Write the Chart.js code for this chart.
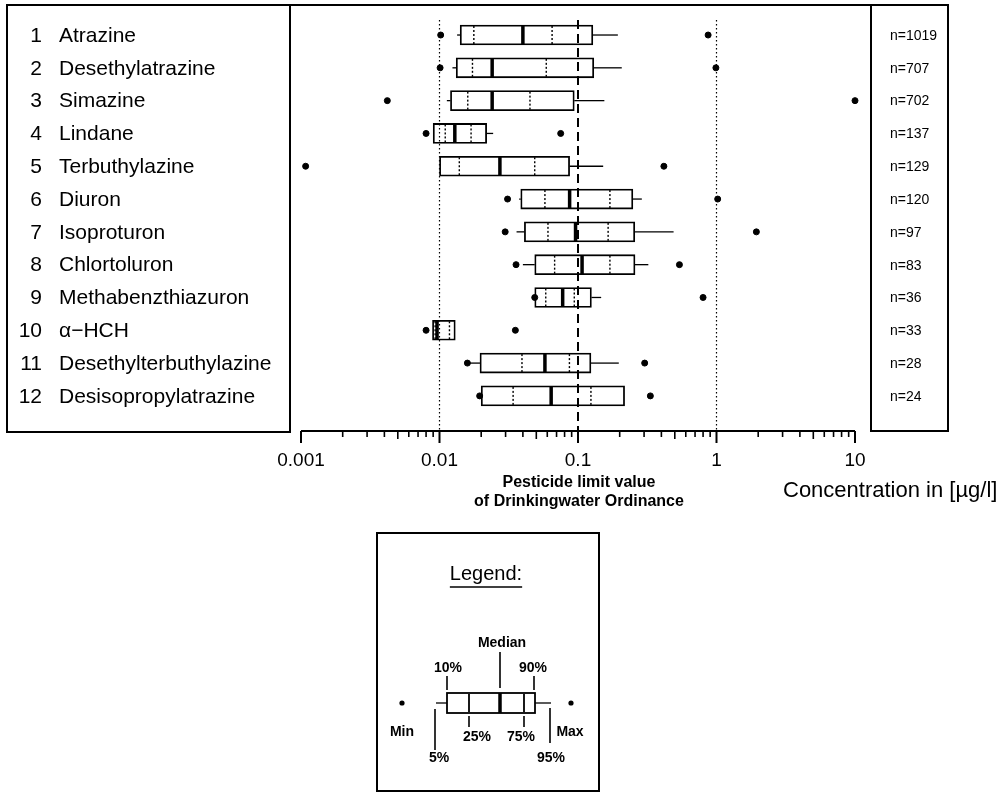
<!DOCTYPE html>
<html>
<head>
<meta charset="utf-8">
<script src="https://cdn.jsdelivr.net/npm/chart.js@4.4.0/dist/chart.umd.min.js"></script>
<style>
  html, body { margin: 0; padding: 0; background: #fff; }
  #wrap { width: 1006px; height: 797px; }
</style>
</head>
<body>
<div id="wrap"><canvas id="chart" width="1006" height="797"></canvas></div>
<script>
// Pesticides, Konzentrationen in µg/l
const substances = ['Atrazine', 'Desethylatrazine', 'Simazine', 'Lindane', 'Terbuthylazine', 'Diuron',
    'Isoproturon', 'Chlortoluron', 'Methabenzthiazuron', 'α\u2212HCH', 'Desethylterbuthylazine', 'Desisopropylatrazine'];
const nCounts = [1019, 707, 702, 137, 129, 120, 97, 83, 36, 33, 28, 24];

const minVals = [0.0102, 0.0101, 0.0042, 0.0080, 0.00108, 0.031, 0.0298, 0.0357, 0.0487, 0.0080, 0.0159, 0.0195];
const p5 =      [0.0134, 0.0124, 0.0113, 0.0090, 0.0100, 0.0376, 0.036, 0.040, 0.0487, 0.0089, 0.0159, 0.0200];
const p10 =     [0.0141, 0.0132, 0.0120, 0.0090, 0.0100, 0.0386, 0.041, 0.0487, 0.0487, 0.0089, 0.0196, 0.0200];
const p25 =     [0.0177, 0.0173, 0.016, 0.011, 0.0139, 0.0577, 0.0607, 0.0678, 0.0585, 0.0093, 0.0394, 0.034];
const median =  [0.040, 0.024, 0.024, 0.0129, 0.0273, 0.087, 0.096, 0.107, 0.0775, 0.0096, 0.0577, 0.064];
const p75 =     [0.065, 0.059, 0.045, 0.0169, 0.0487, 0.170, 0.165, 0.170, 0.094, 0.0118, 0.0867, 0.124];
const p90 =     [0.128, 0.130, 0.094, 0.0219, 0.087, 0.249, 0.257, 0.258, 0.125, 0.0130, 0.124, 0.217];
const p95 =     [0.194, 0.207, 0.155, 0.0244, 0.152, 0.289, 0.49, 0.322, 0.147, 0.0130, 0.197, 0.217];
const maxVals = [0.87, 0.99, 10.0, 0.075, 0.417, 1.02, 1.94, 0.54, 0.80, 0.0353, 0.303, 0.333];

const tickValues = [0.001, 0.01, 0.1, 1, 10];
const tickLabels = ['0.001', '0.01', '0.1', '1', '10'];
const limitLines = [0.01, 0.1, 1];   // 0.1 = Grenzwert TrinkwV

const FONT = '"Liberation Sans", Arial, Helvetica, sans-serif';

function line(ctx, x1, y1, x2, y2) {
    ctx.beginPath();
    ctx.moveTo(x1, y1);
    ctx.lineTo(x2, y2);
    ctx.stroke();
}

// Whisker, Quartile, Median und Grenzwertlinien
const boxDetails = {
    id: 'boxDetails',
    afterDatasetsDraw(chart) {
        const ctx = chart.ctx, xs = chart.scales.x, ys = chart.scales.y;
        const bars = chart.getDatasetMeta(0).data;
        ctx.save();
        ctx.strokeStyle = '#000';
        substances.forEach((s, i) => {
            const yc = ys.getPixelForValue(i + 1);
            const half = bars[i].height / 2 - 1;
            ctx.setLineDash([]);
            ctx.lineWidth = 1.3;
            line(ctx, xs.getPixelForValue(p5[i]), yc, xs.getPixelForValue(p10[i]), yc);
            line(ctx, xs.getPixelForValue(p90[i]), yc, xs.getPixelForValue(p95[i]), yc);
            ctx.setLineDash([2, 2]);
            ctx.lineWidth = 1.4;
            [p25[i], p75[i]].forEach(v => {
                const px = xs.getPixelForValue(v);
                line(ctx, px, yc - half, px, yc + half);
            });
            ctx.setLineDash([]);
            ctx.lineWidth = 3.5;
            const pm = xs.getPixelForValue(median[i]);
            line(ctx, pm, yc - half - 0.5, pm, yc + half + 0.5);
        });
        limitLines.forEach(v => {
            const px = xs.getPixelForValue(v);
            if (v === 0.1) {
                ctx.lineWidth = 2;
                ctx.setLineDash([9, 5]);
            } else {
                ctx.lineWidth = 1.2;
                ctx.setLineDash([1.5, 2.5]);
            }
            line(ctx, px, chart.chartArea.top + 15, px, chart.chartArea.bottom);
        });
        ctx.restore();
    }
};

// Rahmen, Namen, n-Werte, Achse, Legende
const frame = {
    id: 'frame',
    afterDraw(chart) {
        const ctx = chart.ctx, xs = chart.scales.x, ys = chart.scales.y;
        const area = chart.chartArea;
        ctx.save();
        ctx.strokeStyle = '#000';
        ctx.fillStyle = '#000';
        ctx.lineWidth = 2;
        ctx.setLineDash([]);
        ctx.strokeRect(7, area.top, 283, area.bottom - area.top + 1);
        ctx.strokeRect(871, area.top, 77, area.bottom - area.top);
        line(ctx, 290, area.top, 871, area.top);

        ctx.textBaseline = 'middle';
        substances.forEach((s, i) => {
            const yc = ys.getPixelForValue(i + 1) + 1;
            ctx.font = '21px ' + FONT;
            ctx.textAlign = 'right';
            ctx.fillText(String(i + 1), 42, yc);
            ctx.textAlign = 'left';
            ctx.fillText(s, 59, yc);
            ctx.font = '14px ' + FONT;
            ctx.fillText('n=' + nCounts[i], 890, yc);
        });

        // x-Achse mit Ticks nach unten
        const x0 = xs.getPixelForValue(tickValues[0]);
        const x1 = xs.getPixelForValue(tickValues[tickValues.length - 1]);
        const yb = area.bottom;
        ctx.lineWidth = 2;
        line(ctx, x0, yb, x1, yb);
        tickValues.forEach((d, k) => {
            const px = xs.getPixelForValue(d);
            line(ctx, px, yb, px, yb + 12);
            if (k < tickValues.length - 1) {
                for (let m = 2; m <= 9; m++) {
                    const pm = xs.getPixelForValue(d * m);
                    ctx.lineWidth = 1.6;
                    line(ctx, pm, yb, pm, yb + (m === 5 ? 8 : 6));
                }
                ctx.lineWidth = 2;
            }
        });

        ctx.textAlign = 'center';
        ctx.font = 'bold 16px ' + FONT;
        const pLimit = xs.getPixelForValue(0.1);
        ctx.fillText('Pesticide limit value', pLimit + 1, 483);
        ctx.fillText('of Drinkingwater Ordinance', pLimit + 1, 502);
        ctx.textAlign = 'left';
        ctx.font = '22px ' + FONT;
        ctx.fillText('Concentration in [\u00b5g/l]', 783, 491);

        drawLegend(ctx);
        ctx.restore();
    }
};

function drawLegend(ctx) {
    ctx.strokeStyle = '#000';
    ctx.fillStyle = '#000';
    ctx.lineWidth = 2;
    ctx.strokeRect(377, 533, 222, 258);

    ctx.textAlign = 'center';
    ctx.textBaseline = 'middle';
    ctx.font = '20px ' + FONT;
    ctx.fillText('Legend:', 486, 574);
    const w = ctx.measureText('Legend:').width;
    ctx.lineWidth = 1.5;
    line(ctx, 486 - w / 2, 587, 486 + w / 2, 587);

    const yc = 703;
    ctx.lineWidth = 1.8;
    ctx.strokeRect(447, yc - 10, 88, 20);
    ctx.lineWidth = 1.3;
    line(ctx, 436, yc, 447, yc);
    line(ctx, 535, yc, 551, yc);
    ctx.lineWidth = 1.8;
    line(ctx, 469, yc - 9, 469, yc + 9);
    line(ctx, 524, yc - 9, 524, yc + 9);
    ctx.lineWidth = 3.5;
    line(ctx, 500, yc - 10, 500, yc + 10);
    [402, 571].forEach(px => {
        ctx.beginPath();
        ctx.arc(px, yc, 2.6, 0, Math.PI * 2);
        ctx.fill();
    });

    ctx.lineWidth = 1.6;
    line(ctx, 500, 652, 500, 688);
    line(ctx, 447, 676, 447, 690);
    line(ctx, 534, 676, 534, 690);
    line(ctx, 469, 716, 469, 727);
    line(ctx, 524, 716, 524, 727);
    line(ctx, 435, 709, 435, 750);
    line(ctx, 550, 708, 550, 743);

    ctx.font = 'bold 14px ' + FONT;
    ctx.fillText('Median', 502, 643);
    ctx.fillText('10%', 448, 668);
    ctx.fillText('90%', 533, 668);
    ctx.fillText('25%', 477, 737);
    ctx.fillText('75%', 521, 737);
    ctx.fillText('Min', 402, 732);
    ctx.fillText('Max', 570, 732);
    ctx.fillText('5%', 439, 758);
    ctx.fillText('95%', 551, 758);
}

const ctx = document.getElementById('chart');
new Chart(ctx, {
    type: 'bar',
    data: {
        datasets: [{
            type: 'bar',
            label: '10% - 90%',
            data: substances.map((s, i) => ({ x: [p10[i], p90[i]], y: i + 1 })),
            backgroundColor: '#ffffff',
            borderColor: '#000000',
            borderWidth: 1.8,
            borderSkipped: false,
            barThickness: 20,
            order: 2
        }, {
            type: 'scatter',
            label: 'Min',
            data: substances.map((s, i) => ({ x: minVals[i], y: i + 1 })),
            backgroundColor: '#000',
            borderColor: '#000',
            pointRadius: 3,
            clip: false,
            order: 1
        }, {
            type: 'scatter',
            label: 'Max',
            data: substances.map((s, i) => ({ x: maxVals[i], y: i + 1 })),
            backgroundColor: '#000',
            borderColor: '#000',
            pointRadius: 3,
            clip: false,
            order: 1
        }]
    },
    options: {
        indexAxis: 'y',
        responsive: false,
        animation: false,
        layout: { padding: { left: 301, right: 151, top: 5, bottom: 326 } },
        plugins: { legend: { display: false }, tooltip: { enabled: false } },
        scales: {
            x: {
                type: 'logarithmic',
                min: 0.001,
                max: 10,
                grid: { display: false },
                border: { display: false },
                afterBuildTicks: (scale) => { scale.ticks = tickValues.map(v => ({ value: v })); },
                afterFit: (scale) => { scale.height = 40; },
                ticks: {
                    autoSkip: false,
                    maxRotation: 0,
                    padding: 10,
                    color: '#000',
                    font: { family: FONT, size: 19 },
                    callback: (value, index) => tickLabels[index]
                }
            },
            y: {
                type: 'linear',
                reverse: true,
                offset: false,
                min: 0.085,
                max: 13.07,
                display: false
            }
        }
    },
    plugins: [boxDetails, frame]
});
</script>
</body>
</html>
